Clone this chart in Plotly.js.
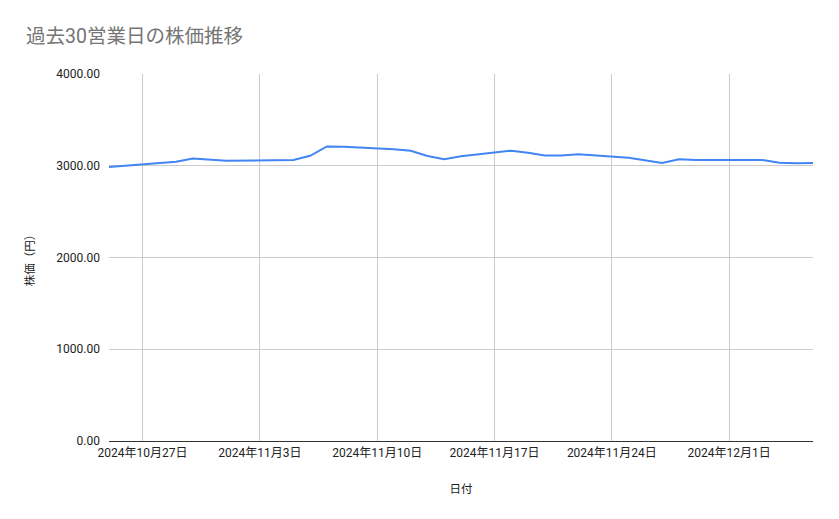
<!DOCTYPE html>
<html>
<head>
<meta charset="utf-8">
<script src="https://cdn.plot.ly/plotly-3.0.1.min.js"></script>
<style>
  html, body { margin: 0; padding: 0; background: #fff; }
  #chart { width: 839px; height: 519px; }
</style>
</head>
<body>
<div id="chart"></div>
<script>
// 営業日 (Nov 4 is a holiday, so it is skipped)
var dates = [
    "2024-10-25", "2024-10-28", "2024-10-29", "2024-10-30", "2024-10-31",
    "2024-11-01", "2024-11-05", "2024-11-06", "2024-11-07", "2024-11-08",
    "2024-11-11", "2024-11-12", "2024-11-13", "2024-11-14", "2024-11-15",
    "2024-11-18", "2024-11-19", "2024-11-20", "2024-11-21", "2024-11-22",
    "2024-11-25", "2024-11-26", "2024-11-27", "2024-11-28", "2024-11-29",
    "2024-12-02", "2024-12-03", "2024-12-04", "2024-12-05", "2024-12-06"
];
var prices = [
    2986, 3026, 3044, 3080, 3066,
    3055, 3062, 3109, 3211, 3206,
    3179, 3164, 3106, 3070, 3104,
    3164, 3142, 3113, 3113, 3124,
    3088, 3059, 3030, 3070, 3062,
    3062, 3062, 3033, 3026, 3030
];

var chartTitle = "過去30営業日の株価推移";
var xTitle = "日付";
var yTitle = "株価（円）";

var fontFam = "Roboto, 'Noto Sans CJK JP', sans-serif";

var trace = {
    x: dates,
    y: prices,
    type: "scatter",
    mode: "lines",
    line: { color: "#4285F4", width: 2 },
    hoverinfo: "x+y"
};

var layout = {
    width: 839,
    height: 519,
    margin: { l: 109, r: 26, t: 74, b: 78 },
    paper_bgcolor: "#ffffff",
    plot_bgcolor: "#ffffff",
    font: { family: fontFam, size: 12, color: "#222222" },
    showlegend: false,
    title: {
        text: chartTitle,
        x: 0.031, xanchor: "left",
        y: 0.93, yanchor: "middle",
        font: { family: fontFam, size: 19.5, color: "#757575" }
    },
    xaxis: {
        type: "date",
        range: ["2024-10-25", "2024-12-06"],
        tick0: "2024-10-27",
        dtick: 7 * 24 * 3600 * 1000,
        tickformat: "%Y年%-m月%-d日",
        showgrid: true,
        gridcolor: "#cccccc",
        gridwidth: 1,
        zeroline: false,
        showline: false,
        ticks: "",
        ticklabelstandoff: 3,
        tickfont: { size: 12, color: "#222222" },
        title: { text: xTitle, standoff: 25, font: { size: 11.5, color: "#222222" } }
    },
    yaxis: {
        range: [0, 4000],
        dtick: 1000,
        tickformat: ".2f",
        showgrid: true,
        gridcolor: "#cccccc",
        gridwidth: 1,
        zeroline: true,
        zerolinecolor: "#333333",
        zerolinewidth: 1,
        showline: false,
        ticks: "",
        ticklabelstandoff: 8,
        tickfont: { size: 12, color: "#222222" },
        title: { text: yTitle, standoff: 19, font: { size: 11.5, color: "#222222" } }
    }
};

Plotly.newPlot("chart", [trace], layout, { displayModeBar: false, staticPlot: true });
</script>
</body>
</html>
